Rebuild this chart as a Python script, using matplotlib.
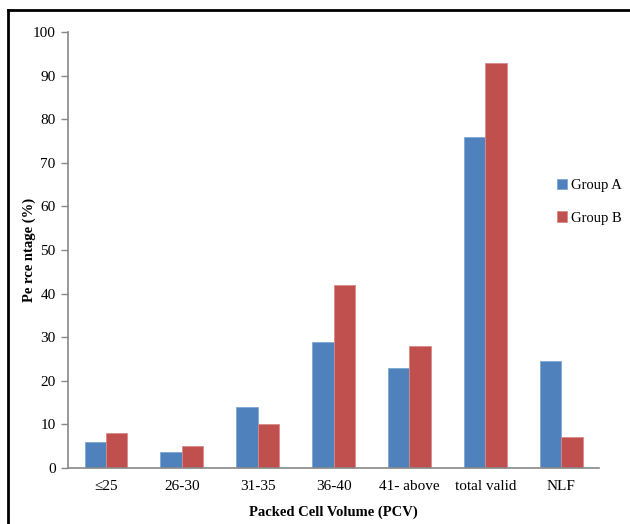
import matplotlib
matplotlib.use("Agg")
import matplotlib.pyplot as plt
import numpy as np
from matplotlib.lines import Line2D

categories = ["≤25", "26-30", "31-35", "36-40", "41- above", "total valid", "NLF"]
group_a = [6, 3.6, 14, 29, 23, 75.8, 24.5]
group_b = [8.1, 5, 10, 42, 28, 92.9, 7]
yticks = list(range(0, 101, 10))

plt.rcParams['font.family'] = ['Liberation Serif', 'DejaVu Serif']

fig = plt.figure(figsize=(6.3, 5.24), dpi=100)
ax = fig.add_axes([0.108, 0.107, 0.843, 0.832])

x = np.arange(len(categories))
w = 0.283
ax.bar(x - w/2, group_a, w, color="#4F81BD", edgecolor="#7EA6D6", linewidth=0.6, label="Group A")
ax.bar(x + w/2, group_b, w, color="#C0504D", edgecolor="#D88A88", linewidth=0.6, label="Group B")

ax.set_xlim(-0.5, len(categories) - 0.5)
ax.set_ylim(0, 100)
ax.set_yticks(yticks)
ax.set_xticks(x)
ax.set_xticklabels(categories, fontsize=11)
ax.tick_params(axis='y', labelsize=11, color="#888888", length=5, width=1, pad=4)
ax.tick_params(axis='x', length=0, pad=9)

for s in ["top", "right"]:
    ax.spines[s].set_visible(False)
for s in ["left", "bottom"]:
    ax.spines[s].set_color("#888888")
    ax.spines[s].set_linewidth(1.2)

ax.set_ylabel("Pe rce ntage (%)", fontsize=10.5, fontweight="bold")
ax.yaxis.set_label_coords(-0.06, 0.5)
ax.set_xlabel("Packed Cell Volume (PCV)", fontsize=10.5, fontweight="bold")
ax.xaxis.set_label_coords(0.5, -0.087)

fig.legend(loc="upper left", bbox_to_anchor=(0.872, 0.672), frameon=False,
           fontsize=10.5, handlelength=0.7, handleheight=0.7, handletextpad=0.3,
           labelspacing=1.3, borderpad=0)

# outer frame (top and left lines)
fig.add_artist(Line2D([8/630, 8/630], [0, 1 - 10/524], transform=fig.transFigure, color="black", linewidth=2))
fig.add_artist(Line2D([8/630, 1], [1 - 10/524, 1 - 10/524], transform=fig.transFigure, color="black", linewidth=2))

fig.savefig("out.png", dpi=100)
